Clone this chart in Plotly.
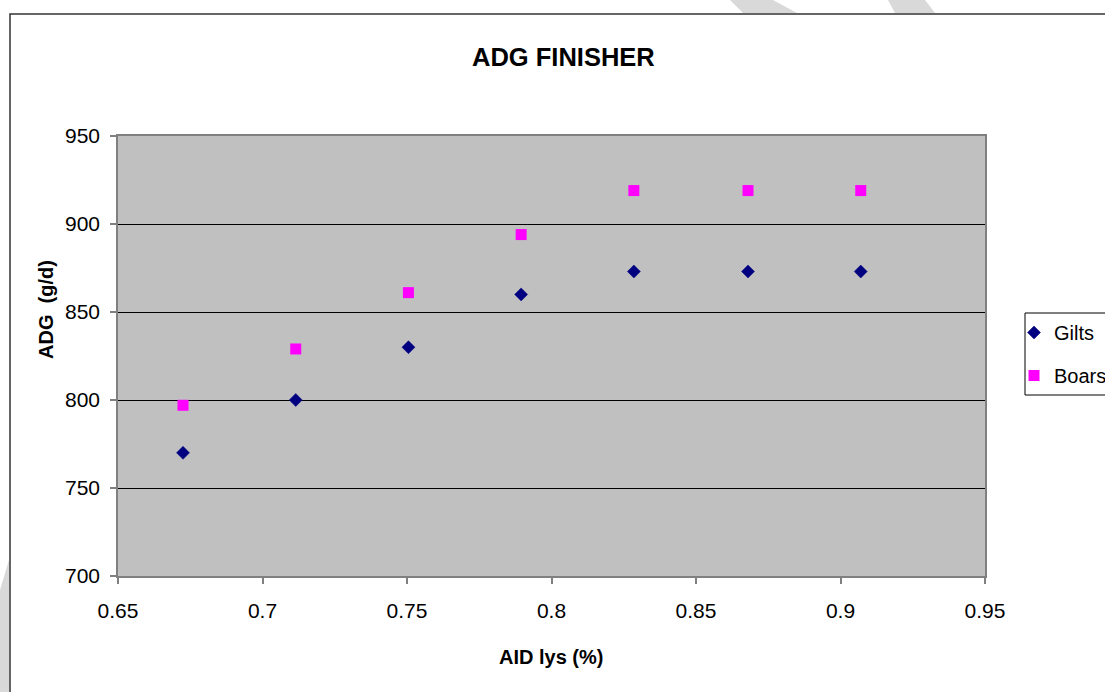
import plotly.graph_objects as go

# Data
aid_lys = [0.6725, 0.7115, 0.7505, 0.7895, 0.8285, 0.868, 0.907]
gilts = [770, 800, 830, 860, 873, 873, 873]
boars = [797, 829, 861, 894, 919, 919, 919]
y_ticks = [700, 750, 800, 850, 900, 950]
x_ticks = [0.65, 0.7, 0.75, 0.8, 0.85, 0.9, 0.95]

W, H = 1105, 692
L, R, T, B = 118, 985, 136, 576


def px(x):
    return (x - L) / (R - L)


def py(y):
    return (B - y) / (B - T)


def path(points):
    return "M " + " L ".join(f"{px(a):.5f},{py(b):.5f}" for a, b in points) + " Z"


FONT = "Liberation Sans, Arial, sans-serif"

fig = go.Figure()
fig.add_trace(go.Scatter(
    x=aid_lys, y=gilts, mode="markers", name="Gilts", legendgroup="g",
    marker=dict(symbol="diamond", size=10, color="#000080",
                line=dict(width=0.5, color="#000080")),
))
fig.add_trace(go.Scatter(
    x=aid_lys, y=boars, mode="markers", name="Boars", legendgroup="b",
    marker=dict(symbol="square", size=11, color="#FF00FF",
                line=dict(width=0)),
))

shapes = []
# light grey decorative stripes outside the chart frame
for pts in [
    [(730, 0), (773, 0), (797, 13), (743, 13)],
    [(888, 0), (925, 0), (935, 13), (895, 13)],
    [(0, 590), (9, 560), (9, 692), (0, 692)],
]:
    shapes.append(dict(type="path", xref="paper", yref="paper", path=path(pts),
                       fillcolor="#D9D9D9", line=dict(width=0), layer="above"))
# chart frame
shapes.append(dict(type="rect", xref="paper", yref="paper",
                   x0=px(10), x1=px(1120), y0=py(14), y1=py(700),
                   line=dict(color="#333333", width=1.5), fillcolor="rgba(0,0,0,0)",
                   layer="above"))
# legend box
shapes.append(dict(type="rect", xref="paper", yref="paper",
                   x0=px(1025), x1=px(1120), y0=py(313), y1=py(395),
                   line=dict(color="#000000", width=1), fillcolor="rgba(0,0,0,0)",
                   layer="above"))

fig.update_layout(
    width=W, height=H,
    margin=dict(l=L, r=W - R, t=T, b=H - B, pad=0, autoexpand=False),
    paper_bgcolor="white",
    plot_bgcolor="#C0C0C0",
    font=dict(family=FONT, size=21, color="black"),
    showlegend=True,
    legend=dict(x=px(1014), y=py(313), xanchor="left", yanchor="top",
                bgcolor="rgba(0,0,0,0)", borderwidth=0,
                font=dict(size=20, family=FONT), tracegroupgap=14,
                itemwidth=30),
    shapes=shapes,
    annotations=[
        dict(text="<b>ADG FINISHER</b>", xref="paper", yref="paper",
             x=px(563), y=py(57), showarrow=False, font=dict(size=25.5, family=FONT),
             xanchor="center", yanchor="middle"),
        dict(text="<b>AID lys (%)</b>", xref="paper", yref="paper",
             x=px(551), y=py(657), showarrow=False, font=dict(size=20, family=FONT),
             xanchor="center", yanchor="middle"),
        dict(text="<b>ADG  (g/d)</b>", xref="paper", yref="paper",
             x=px(46), y=py(310), showarrow=False, font=dict(size=20, family=FONT),
             textangle=-90, xanchor="center", yanchor="middle"),
    ],
)
fig.update_xaxes(range=[0.65, 0.95], tickvals=x_ticks,
                 ticktext=[f"{v:g}" for v in x_ticks],
                 showgrid=False, zeroline=False, showline=True, mirror=True,
                 linecolor="#808080", linewidth=1.5,
                 ticks="outside", ticklen=6, tickcolor="#808080", tickwidth=1.5,
                 ticklabelstandoff=9)
fig.update_yaxes(range=[700, 950], tickvals=y_ticks,
                 showgrid=True, gridcolor="#000000", gridwidth=1,
                 zeroline=False, showline=True, mirror=True,
                 linecolor="#808080", linewidth=1.5,
                 ticks="outside", ticklen=6, tickcolor="#808080", tickwidth=1.5,
                 ticklabelstandoff=6)

fig.write_html("out.html")
